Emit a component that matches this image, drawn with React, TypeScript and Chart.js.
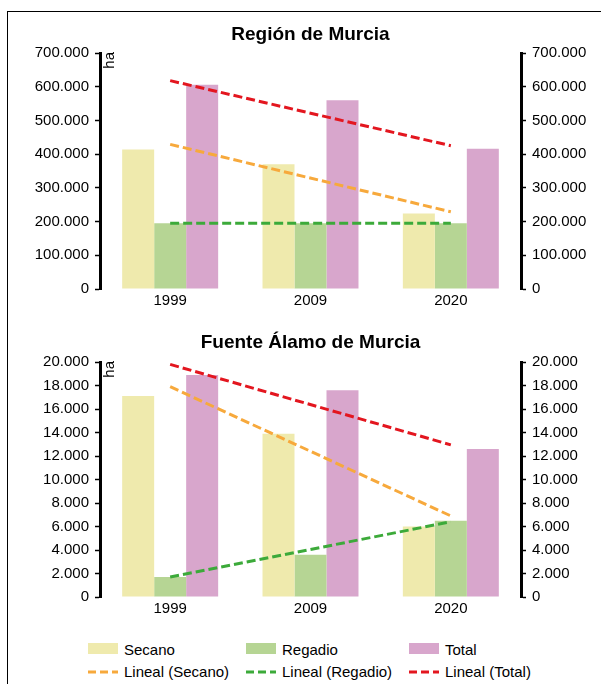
import React, { useEffect, useRef } from "react";
import { Chart, registerables } from "chart.js";

Chart.register(...registerables);

const FONT = '"Liberation Sans", Arial, Helvetica, sans-serif';
Chart.defaults.font.family = FONT;
Chart.defaults.color = "#000";

// Census years
const years = ["1999", "2009", "2020"];

// Región de Murcia, hectares
const murciaSecano = [414000, 370000, 224000];
const murciaRegadio = [195000, 195000, 195000];
const murciaTotal = [606000, 560000, 416000];
// Linear trend lines (first and last year, straight line in between)
const murciaTrendSecano = [429000, null, 229000];
const murciaTrendRegadio = [195000, null, 195000];
const murciaTrendTotal = [618000, null, 425000];
const murciaMax = 700000;
const murciaStep = 100000;

// Fuente Álamo de Murcia, hectares
const fuenteSecano = [17100, 13900, 6000];
const fuenteRegadio = [1700, 3600, 6500];
const fuenteTotal = [18900, 17600, 12600];
const fuenteTrendSecano = [17900, null, 6900];
const fuenteTrendRegadio = [1700, null, 6400];
const fuenteTrendTotal = [19800, null, 12950];
const fuenteMax = 20000;
const fuenteStep = 2000;

const COLOR_SECANO = "#efeaad";
const COLOR_REGADIO = "#b6d594";
const COLOR_TOTAL = "#d8a6cc";
const COLOR_TREND_SECANO = "#f7a93c";
const COLOR_TREND_REGADIO = "#3caa3a";
const COLOR_TREND_TOTAL = "#e3161f";

const PAGE_W = 601;
const PLOT_LEFT = 100;
const PLOT_RIGHT = 521;

// Spanish thousands separator: 700000 -> "700.000"
const fmt = (v: number | string) =>
  String(Math.round(Number(v))).replace(/\B(?=(\d{3})+(?!\d))/g, ".");

// Rotated unit label next to the left axis
const unitLabel = {
  id: "unitLabel",
  afterDraw(chart: any) {
    const { ctx, chartArea } = chart;
    ctx.save();
    ctx.translate(chartArea.left + 9.5, chartArea.top - 1);
    ctx.rotate(-Math.PI / 2);
    ctx.font = `15px ${FONT}`;
    ctx.fillStyle = "#000";
    ctx.textAlign = "right";
    ctx.textBaseline = "middle";
    ctx.fillText("ha", 0, 0);
    ctx.restore();
  },
};

type PanelProps = {
  title: string;
  secano: number[];
  regadio: number[];
  total: number[];
  trendSecano: (number | null)[];
  trendRegadio: (number | null)[];
  trendTotal: (number | null)[];
  max: number;
  step: number;
  top: number;
  height: number;
  titlePadTop: number;
  titlePadBottom: number;
};

function Panel(p: PanelProps) {
  const ref = useRef<HTMLCanvasElement>(null);

  useEffect(() => {
    if (!ref.current) return;

    const trend = (label: string, data: (number | null)[], color: string) => ({
      type: "line" as const,
      label,
      data,
      borderColor: color,
      backgroundColor: color,
      borderWidth: 3,
      borderDash: [9, 4],
      pointRadius: 0,
      pointHoverRadius: 0,
      spanGaps: true,
      tension: 0,
      fill: false,
      order: 0,
      yAxisID: "y",
    });

    const bar = (label: string, data: number[], color: string) => ({
      type: "bar" as const,
      label,
      data,
      backgroundColor: color,
      borderWidth: 0,
      barPercentage: 1,
      categoryPercentage: 0.684,
      order: 1,
      yAxisID: "y",
    });

    const yAxis = (position: "left" | "right", width: number) => ({
      type: "linear" as const,
      position,
      min: 0,
      max: p.max,
      afterFit: (scale: any) => {
        scale.width = width;
      },
      border: { display: true, color: "#000", width: 3 },
      grid: {
        display: true,
        drawOnChartArea: false,
        drawTicks: true,
        tickLength: 5,
        tickColor: "#000",
        tickWidth: 1.5,
      },
      ticks: {
        stepSize: p.step,
        padding: 6,
        color: "#000",
        font: { size: 15 },
        callback: (v: number | string) => fmt(v),
      },
    });

    const chart = new Chart(ref.current, {
      type: "bar",
      data: {
        labels: years,
        datasets: [
          bar("Secano", p.secano, COLOR_SECANO),
          bar("Regadio", p.regadio, COLOR_REGADIO),
          bar("Total", p.total, COLOR_TOTAL),
          trend("Lineal (Secano)", p.trendSecano, COLOR_TREND_SECANO),
          trend("Lineal (Regadio)", p.trendRegadio, COLOR_TREND_REGADIO),
          trend("Lineal (Total)", p.trendTotal, COLOR_TREND_TOTAL),
        ] as any,
      },
      options: {
        responsive: false,
        animation: false,
        layout: { padding: 0 },
        plugins: {
          legend: { display: false },
          tooltip: { enabled: false },
          title: {
            display: true,
            text: p.title,
            fullSize: false,
            color: "#000",
            font: { size: 19, weight: "bold" },
            padding: { top: p.titlePadTop, bottom: p.titlePadBottom },
          },
        },
        scales: {
          x: {
            afterFit: (scale: any) => {
              scale.height = 29;
            },
            border: { display: false },
            grid: { display: false, drawTicks: false },
            ticks: { padding: 3, color: "#000", font: { size: 15 } },
          },
          y: yAxis("left", PLOT_LEFT),
          y2: yAxis("right", PAGE_W - PLOT_RIGHT),
        },
      } as any,
      plugins: [unitLabel],
    });

    return () => chart.destroy();
  }, []);

  return (
    <canvas
      ref={ref}
      width={PAGE_W}
      height={p.height}
      style={{ position: "absolute", left: 0, top: p.top, width: PAGE_W, height: p.height }}
    />
  );
}

const legendColumns = [88, 246, 409];
const legendBars = [
  { label: "Secano", color: COLOR_SECANO },
  { label: "Regadio", color: COLOR_REGADIO },
  { label: "Total", color: COLOR_TOTAL },
];
const legendLines = [
  { label: "Lineal (Secano)", color: COLOR_TREND_SECANO },
  { label: "Lineal (Regadio)", color: COLOR_TREND_REGADIO },
  { label: "Lineal (Total)", color: COLOR_TREND_TOTAL },
];

function Legend() {
  const text: React.CSSProperties = {
    position: "absolute",
    fontFamily: FONT,
    fontSize: 15,
    lineHeight: "18px",
    color: "#000",
    whiteSpace: "nowrap",
  };
  return (
    <>
      {legendBars.map((item, i) => (
        <React.Fragment key={item.label}>
          <div
            style={{
              position: "absolute",
              left: legendColumns[i],
              top: 643,
              width: 30,
              height: 11,
              background: item.color,
            }}
          />
          <span style={{ ...text, left: legendColumns[i] + 36, top: 641 }}>{item.label}</span>
        </React.Fragment>
      ))}
      {legendLines.map((item, i) => (
        <React.Fragment key={item.label}>
          <svg
            width={30}
            height={4}
            style={{ position: "absolute", left: legendColumns[i], top: 670 }}
          >
            <line
              x1={0}
              y1={2}
              x2={30}
              y2={2}
              stroke={item.color}
              strokeWidth={3}
              strokeDasharray="8 4"
            />
          </svg>
          <span style={{ ...text, left: legendColumns[i] + 36, top: 663 }}>{item.label}</span>
        </React.Fragment>
      ))}
    </>
  );
}

export default function App() {
  return (
    <div
      style={{
        position: "absolute",
        left: 0,
        top: 0,
        width: PAGE_W,
        height: 684,
        overflow: "hidden",
        background: "#fff",
      }}
    >
      <div
        style={{
          position: "absolute",
          left: 7,
          top: 11,
          width: 800,
          height: 900,
          borderLeft: "1px solid #000",
          borderTop: "1px solid #000",
        }}
      />
      <Panel
        title="Región de Murcia"
        secano={murciaSecano}
        regadio={murciaRegadio}
        total={murciaTotal}
        trendSecano={murciaTrendSecano}
        trendRegadio={murciaTrendRegadio}
        trendTotal={murciaTrendTotal}
        max={murciaMax}
        step={murciaStep}
        top={0}
        height={318}
        titlePadTop={23.6}
        titlePadBottom={6.6}
      />
      <Panel
        title="Fuente Álamo de Murcia"
        secano={fuenteSecano}
        regadio={fuenteRegadio}
        total={fuenteTotal}
        trendSecano={fuenteTrendSecano}
        trendRegadio={fuenteTrendRegadio}
        trendTotal={fuenteTrendTotal}
        max={fuenteMax}
        step={fuenteStep}
        top={318}
        height={308}
        titlePadTop={13.6}
        titlePadBottom={7.6}
      />
      <Legend />
    </div>
  );
}
